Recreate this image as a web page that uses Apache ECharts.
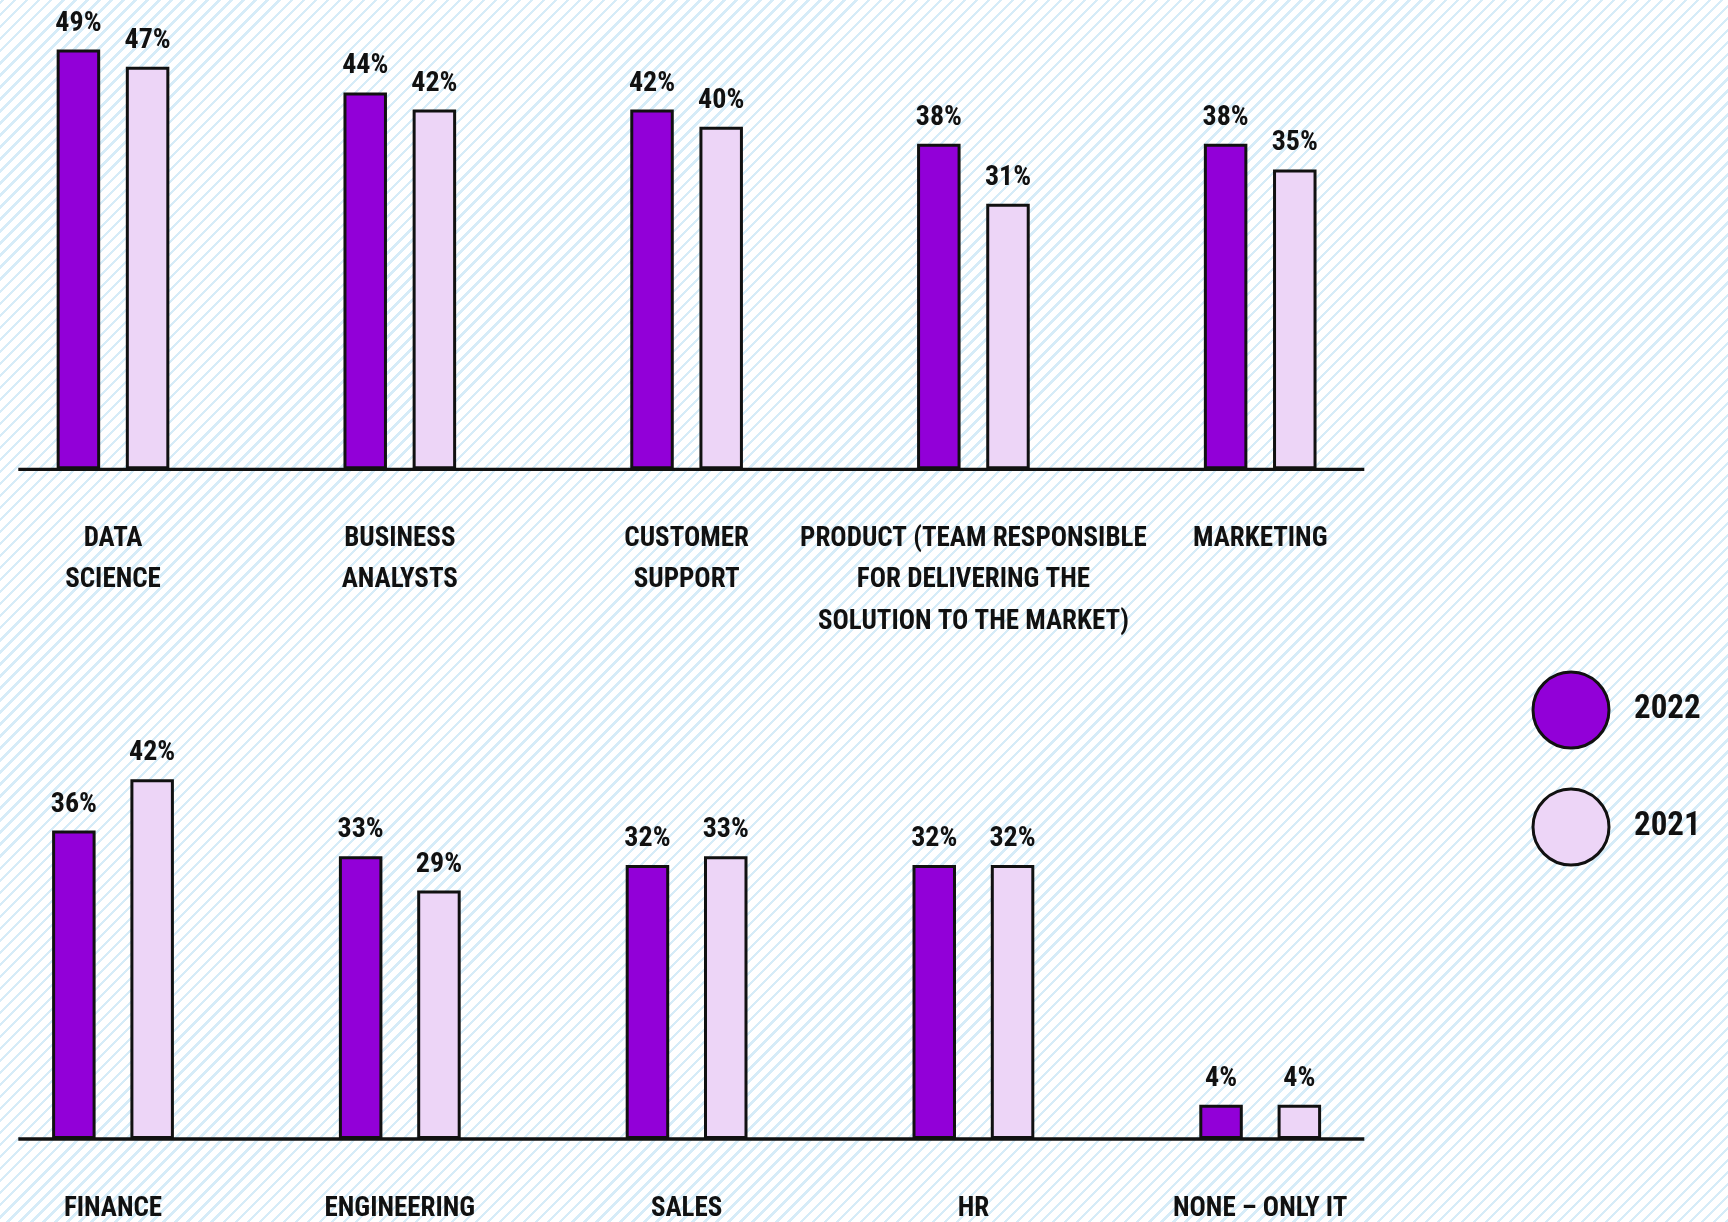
<!DOCTYPE html>
<html>
<head>
<meta charset="utf-8">
<script src="https://cdn.jsdelivr.net/npm/echarts@6/dist/echarts.min.js"></script>
<style>
  html, body { margin: 0; padding: 0; }
  body {
    width: 1728px; height: 1222px; overflow: hidden;
    background: #ffffff repeating-linear-gradient(-45deg, #d6ecf8 0px, #d6ecf8 2.4px, #ffffff 2.4px, #ffffff 8.5px);
  }
  #chart { width: 1728px; height: 1222px; }
</style>
</head>
<body>
<div id="chart"></div>
<script>
const topCategories = ["DATA\nSCIENCE", "BUSINESS\nANALYSTS", "CUSTOMER\nSUPPORT", "PRODUCT (TEAM RESPONSIBLE\nFOR DELIVERING THE\nSOLUTION TO THE MARKET)", "MARKETING"];
const top2022 = [49, 44, 42, 38, 38];
const top2021 = [47, 42, 40, 31, 35];

const bottomCategories = ["FINANCE", "ENGINEERING", "SALES", "HR", "NONE \u2013 ONLY IT"];
const bottom2022 = [36, 33, 32, 32, 4];
const bottom2021 = [42, 29, 33, 32, 4];

const seriesNames = ["2022", "2021"];

const FONT = '"Roboto Condensed", "Open Sans Condensed", Roboto, sans-serif';
const C2022 = '#9200d8';
const C2021 = '#edd5f7';
const INK = '#111111';

const chart = echarts.init(document.getElementById('chart'), null, { renderer: 'canvas' });

const labelCfg = {
  show: true, position: 'top', distance: 12,
  formatter: '{c}%', fontFamily: FONT, fontWeight: 'bold', fontSize: 28, color: INK
};
const xAxisBase = {
  type: 'category',
  axisLine: { show: false }, axisTick: { show: false },
  axisLabel: { interval: 0, fontFamily: FONT, fontWeight: 'bold', fontSize: 27, lineHeight: 41.5, color: INK, margin: 49 }
};
const yAxisBase = { type: 'value', min: 0, max: 50, show: false, splitLine: { show: false } };

function barSeries(name, data, idx, gap) {
  return {
    name: name, type: 'bar', xAxisIndex: idx, yAxisIndex: idx, data: data,
    barWidth: 43.5, barGap: gap,
    itemStyle: { color: name === '2022' ? C2022 : C2021, borderColor: INK, borderWidth: 3 },
    label: labelCfg
  };
}

chart.setOption({
  backgroundColor: 'transparent',
  animation: false,
  grid: [
    { left: -30.4, width: 1434, top: 41.0, height: 428.3, outerBoundsMode: 'none', containLabel: false },
    { left: -30.4, width: 1434, top: 710.7, height: 428.3, outerBoundsMode: 'none', containLabel: false }
  ],
  xAxis: [
    Object.assign({}, xAxisBase, { gridIndex: 0, data: topCategories }),
    Object.assign({}, xAxisBase, { gridIndex: 1, data: bottomCategories })
  ],
  yAxis: [
    Object.assign({}, yAxisBase, { gridIndex: 0 }),
    Object.assign({}, yAxisBase, { gridIndex: 1 })
  ],
  legend: {
    data: seriesNames, orient: 'vertical', left: 1531.5, top: 670.5, padding: 0,
    icon: 'circle', itemWidth: 76, itemHeight: 76, itemGap: 38,
    itemStyle: { borderColor: INK, borderWidth: 3 },
    textStyle: { fontFamily: FONT, fontWeight: 'bold', fontSize: 33, color: INK, padding: [0, 0, 0, 20] },
    selectedMode: false
  },
  graphic: [
    { type: 'line', z: 100, shape: { x1: 18.3, y1: 469.3, x2: 1364.3, y2: 469.3 }, style: { stroke: INK, lineWidth: 3.3 } },
    { type: 'line', z: 100, shape: { x1: 18.3, y1: 1139, x2: 1364.3, y2: 1139 }, style: { stroke: INK, lineWidth: 3.3 } }
  ],
  series: [
    barSeries('2022', top2022, 0, '59%'),
    barSeries('2021', top2021, 0, '59%'),
    barSeries('2022', bottom2022, 1, '80%'),
    barSeries('2021', bottom2021, 1, '80%')
  ]
});
</script>
</body>
</html>
